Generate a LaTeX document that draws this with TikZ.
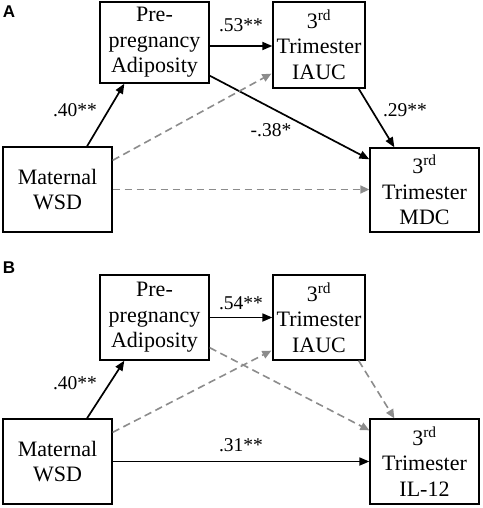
\documentclass[tikz,border=0pt]{standalone}
\usepackage{fontspec}
\setmainfont{Liberation Serif}
\newfontfamily\panelfont{Liberation Sans}
\usetikzlibrary{arrows.meta,calc}
\begin{document}
\begin{tikzpicture}[x=1pt,y=-1pt,
  box/.style={draw=black,line width=1.3pt,align=center,inner sep=0pt,
    font=\fontsize{22}{25.5}\selectfont},
  sol/.style={draw=black,line width=1.7pt,-{Triangle[length=10pt,width=8pt]}},
  gry/.style={draw=black!45,line width=1.6pt,dash pattern=on 7.5pt off 4.5pt,
    -{Triangle[length=9pt,width=8pt]}},
  lab/.style={font=\fontsize{19.5}{21}\selectfont,inner sep=0pt},
  panel/.style={font=\panelfont\bfseries\fontsize{17}{17}\selectfont,inner sep=0pt}]
\useasboundingbox (0,0) rectangle (482,508);
% Panel A
\node[panel] (pa) at (9,11.5) {A};
\node[box,minimum width=109,minimum height=81] (pre) at (154.5,42.5) {Pre-\\pregnancy\\Adiposity};
\node[box,minimum width=92,minimum height=86] (iauc) at (319,45) {3\textsuperscript{rd}\\Trimester\\IAUC};
\node[box,minimum width=109,minimum height=85] (wsd) at (57.5,189.5) {Maternal\\WSD};
\node[box,minimum width=109,minimum height=84] (mdc) at (424.5,190) {3\textsuperscript{rd}\\Trimester\\MDC};
\draw[sol] ($(wsd.north)+(29.5,0)$) -- ($(pre.south west)+(25,0)$);
\draw[sol] ($(pre.east)+(0,3.5)$) -- ($(pre.east -| iauc.west)+(0,3.5)$);
\draw[sol] ($(pre.south east)+(0,-8)$) -- ($(mdc.north west)+(0,12)$);
\draw[sol] ($(iauc.south east)+(-7,0)$) -- ($(mdc.north west)+(25,0)$);
\draw[gry] ($(wsd.north east)+(0,14)$) -- ($(iauc.south west)+(-1,-15)$);
\draw[gry] (wsd.east) -- (wsd.east -| mdc.west);
\node[lab] (l1) at (75,110) {.40**};
\node[lab] (l2) at (241,25) {.53**};
\node[lab] (l3) at (271,130) {-.38*};
\node[lab] (l4) at (405,110) {.29**};
% Panel B
\node[panel] (pb) at (9,267.5) {B};
\node[box,minimum width=109,minimum height=85] (pre2) at (154.5,317.5) {Pre-\\pregnancy\\Adiposity};
\node[box,minimum width=92,minimum height=85] (iauc2) at (319,317.5) {3\textsuperscript{rd}\\Trimester\\IAUC};
\node[box,minimum width=109,minimum height=85] (wsd2) at (57.5,461.5) {Maternal\\WSD};
\node[box,minimum width=109,minimum height=85] (il) at (424.5,461.5) {3\textsuperscript{rd}\\Trimester\\IL-12};
\draw[sol] ($(wsd2.north)+(29.5,0)$) -- ($(pre2.south west)+(25,0)$);
\draw[sol] (pre2.east) -- (pre2.east -| iauc2.west);
\draw[gry] ($(pre2.south east)+(0,-13)$) -- ($(il.north west)+(0,12)$);
\draw[gry] ($(iauc2.south east)+(-7,0)$) -- ($(il.north west)+(25,0)$);
\draw[gry] ($(wsd2.north east)+(0,14)$) -- ($(iauc2.south west)+(-1,-10)$);
\draw[sol] (wsd2.east) -- (wsd2.east -| il.west);
\node[lab] (m1) at (75,383) {.40**};
\node[lab] (m2) at (241,303) {.54**};
\node[lab] (m3) at (241,445) {.31**};
\end{tikzpicture}
\end{document}
